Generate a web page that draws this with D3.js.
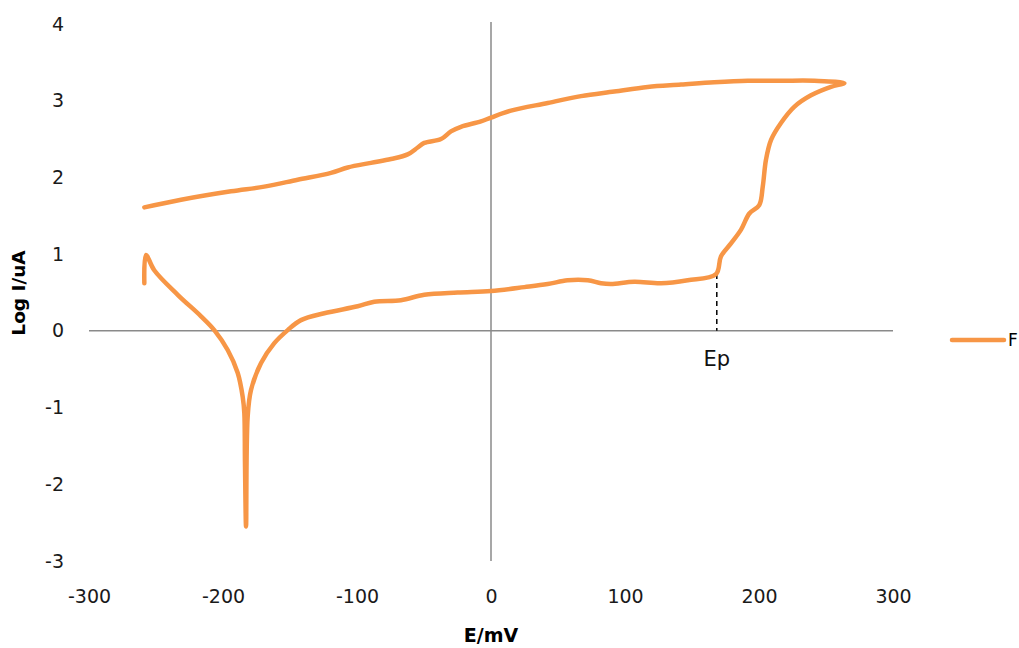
<!DOCTYPE html>
<html>
<head>
<meta charset="utf-8">
<script src="https://cdn.jsdelivr.net/npm/d3@7"></script>
<style>
  html, body { margin: 0; padding: 0; background: #fff; overflow: hidden; }
  .tick text { font-family: "DejaVu Sans", sans-serif; font-size: 19px; fill: #1a1a1a; }
</style>
</head>
<body>
<div id="chart"></div>
<script>
// potential (mV) and log current (log uA), in scan order
const potential = [
  -258.7, -257.5, -251.3, -233.8, -216.4, -206.5, -196.5, -189.0, -185.3, -184.1, -183.6, -182.8,
  -181.6, -179.1, -171.6, -161.7, -151.7, -141.8, -124.4, -99.5, -87.1, -67.2, -49.8, -24.9,
  0, 24.9, 42.3, 57.2, 72.2, 82.1, 89.6, 106.9, 126.9, 146.8, 167.9,
  171.6, 179.1, 186.6, 192.8, 200.2, 202.8, 205.2, 209.0, 216.4, 226.3, 238.8, 253.7, 263.7,
  241.3, 216.4, 191.6, 166.6, 141.8, 116.9, 92.0, 67.2, 42.3, 14.9, 0, -7.5, -22.4, -29.9,
  -37.3, -49.8, -54.7, -62.2, -74.6, -89.6, -106.9, -119.4, -144.3, -169.2, -194.0, -231.3, -258.7
];
const logCurrent = [
  0.62, 0.99, 0.79, 0.47, 0.19, 0.01, -0.25, -0.55, -0.86, -1.07, -1.72, -2.55,
  -1.12, -0.77, -0.42, -0.16, 0.01, 0.14, 0.23, 0.32, 0.38, 0.40, 0.47, 0.50,
  0.52, 0.57, 0.61, 0.66, 0.66, 0.62, 0.61, 0.64, 0.62, 0.66, 0.74,
  0.97, 1.14, 1.32, 1.53, 1.64, 1.88, 2.23, 2.49, 2.71, 2.92, 3.07, 3.18, 3.23,
  3.26, 3.26, 3.26, 3.24, 3.21, 3.18, 3.12, 3.06, 2.97, 2.87, 2.78, 2.73, 2.66, 2.60,
  2.50, 2.45, 2.39, 2.30, 2.24, 2.19, 2.13, 2.06, 1.97, 1.88, 1.82, 1.71, 1.61
];
const xTicks = [-300, -200, -100, 0, 100, 200, 300];
const yTicks = [-3, -2, -1, 0, 1, 2, 3, 4];
const seriesName = "F";
const pitting = [168.5, 0.74];

const width = 1019, height = 648;
const orange = "#f79646";
const fmt = d => String(d); // plain hyphen, no decimals

const svg = d3.select("#chart").append("svg")
  .attr("width", width)
  .attr("height", height);

const x = d3.scaleLinear().domain([-300, 300]).range([89, 893]);
const y = d3.scaleLinear().domain([-3, 4]).range([561, 24]);

// axis lines through the origin
svg.append("line")
  .attr("x1", x(-300)).attr("x2", x(300))
  .attr("y1", y(0)).attr("y2", y(0))
  .attr("stroke", "#8a8a8a").attr("stroke-width", 1.5);
svg.append("line")
  .attr("x1", x(0)).attr("x2", x(0))
  .attr("y1", y(4) - 2).attr("y2", y(-3))
  .attr("stroke", "#8a8a8a").attr("stroke-width", 1.5);

// tick labels
const yAxis = svg.append("g")
  .attr("transform", "translate(64,0)")
  .call(d3.axisLeft(y).tickValues(yTicks).tickFormat(fmt).tickSize(0).tickPadding(0));
yAxis.select(".domain").remove();

const xAxis = svg.append("g")
  .attr("transform", "translate(0,589)")
  .call(d3.axisBottom(x).tickValues(xTicks).tickFormat(fmt).tickSize(0).tickPadding(0));
xAxis.select(".domain").remove();

// axis titles
svg.append("text")
  .attr("transform", "translate(25,293) rotate(-90)")
  .attr("text-anchor", "middle")
  .style("font-family", "DejaVu Sans, sans-serif")
  .style("font-size", "18.5px")
  .style("font-weight", "bold")
  .text("Log I/uA");
svg.append("text")
  .attr("x", x(0)).attr("y", 642)
  .attr("text-anchor", "middle")
  .style("font-family", "DejaVu Sans, sans-serif")
  .style("font-size", "19px")
  .style("font-weight", "bold")
  .text("E/mV");

// pitting potential marker
svg.append("line")
  .attr("x1", x(pitting[0])).attr("x2", x(pitting[0]))
  .attr("y1", y(pitting[1])).attr("y2", y(0))
  .attr("stroke", "#000").attr("stroke-width", 1.5)
  .attr("stroke-dasharray", "5,4");
svg.append("text")
  .attr("x", x(pitting[0]))
  .attr("y", 366)
  .attr("text-anchor", "middle")
  .style("font-family", "DejaVu Sans, sans-serif")
  .style("font-size", "21px")
  .style("fill", "#111")
  .text("Ep");

// polarization curve
const pts = potential.map((e, i) => [e, logCurrent[i]]);
const line = d3.line()
  .x(d => x(d[0]))
  .y(d => y(d[1]))
  .curve(d3.curveCatmullRom.alpha(0.5));
svg.append("path")
  .datum(pts)
  .attr("d", line)
  .attr("fill", "none")
  .attr("stroke", orange)
  .attr("stroke-width", 4.5)
  .attr("stroke-linejoin", "round")
  .attr("stroke-linecap", "round");

// legend at the right edge
const lg = svg.append("g").attr("transform", "translate(952,340)");
lg.append("line")
  .attr("x1", 0).attr("x2", 52)
  .attr("stroke", orange).attr("stroke-width", 4.5)
  .attr("stroke-linecap", "round");
lg.append("text")
  .attr("x", 56).attr("dy", "0.35em")
  .style("font-family", "DejaVu Sans, sans-serif")
  .style("font-size", "17px")
  .text(seriesName);
</script>
</body>
</html>
